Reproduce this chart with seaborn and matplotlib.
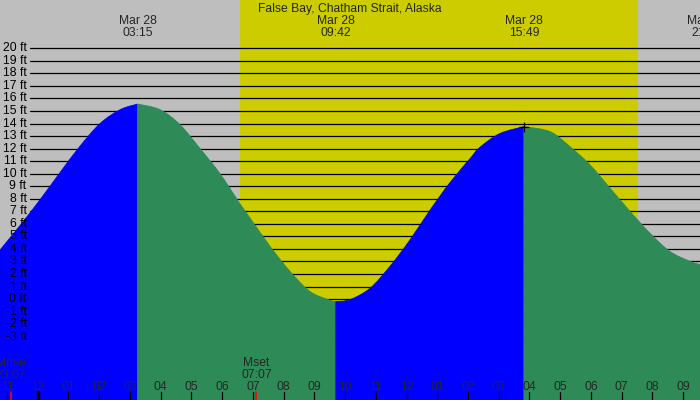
import matplotlib
matplotlib.use("Agg")
import matplotlib.pyplot as plt
import matplotlib.transforms as mtrans
from matplotlib.path import Path
from matplotlib.patches import PathPatch
import seaborn as sns
import pandas as pd

# ---- data (hours relative to Mar 28 00:00, heights in ft) ----
title = "False Bay, Chatham Strait, Alaska"
tide_hours = [-1.23, -0.58, 0.07, 0.73, 1.38, 2.03, 2.68, 3.25,
              3.98, 4.63, 5.28, 5.93, 6.58, 6.91, 7.56, 8.21, 8.86, 9.51, 9.70,
              10.16, 10.81, 11.46, 12.11, 12.77, 13.42, 14.07, 14.39, 15.04, 15.82,
              16.67, 17.32, 17.97, 18.62, 19.27, 19.92, 20.57, 21.23, 21.55]
tide_ft = [3.9, 5.85, 7.9, 10.1, 12.2, 14.0, 15.1, 15.55,
           15.1, 13.9, 12.0, 10.0, 7.6, 6.45, 4.2, 2.2, 0.6, -0.1, -0.2,
           -0.05, 0.85, 2.6, 4.7, 7.1, 9.3, 11.2, 12.1, 13.2, 13.75,
           13.35, 12.15, 10.7, 8.85, 7.0, 5.25, 3.8, 3.0, 2.75]
extreme_hours = [3.25, 9.70, 15.82, 21.75]
extreme_labels = ["Mar 28\n03:15", "Mar 28\n09:42", "Mar 28\n15:49", "Mar 28\n21:45"]
peak_mark = (15.82, 13.75)
sunrise_h, sunset_h = 6.58, 19.52
moon_hours = [-0.883, 7.117]
moon_labels = ["Mrise\n23:07", "Mset\n07:07"]
hour_ticks = list(range(-1, 22))
ft_levels = list(range(-3, 21))

df = pd.DataFrame({"hour": tide_hours, "ft": tide_ft})

# ---- figure ----
sns.set_style("white")
plt.rcParams['font.family'] = ['Liberation Sans', 'DejaVu Sans']
fig = plt.figure(figsize=(7, 4), dpi=100)
ax = fig.add_axes([0, 0, 1, 1])
x0, x1 = -1.228, 21.55
y0, y1 = -8.05, 23.85
ax.set_xlim(x0, x1)
ax.set_ylim(y0, y1)
ax.set_facecolor("#BEBEBE")
ax.axvspan(sunrise_h, sunset_h, color="#CCCC00", zorder=0, lw=0)

FS = 8.7
blend = mtrans.blended_transform_factory(ax.transData, ax.transAxes)
blend_y = mtrans.blended_transform_factory(ax.transAxes, ax.transData)

# horizontal ft lines and labels
for f in ft_levels:
    ax.axhline(f, xmin=29.5 / 700, xmax=1, color="black", lw=0.9, zorder=1)
    ax.text(26.5 / 700, f, f"{f} ft", transform=blend_y, ha="right", va="center",
            fontsize=FS, color="black", zorder=5)


def smooth_path(xs, ys, base):
    """Catmull-Rom curve drawn through the data points, closed down to base."""
    verts = [(xs[0], base), (xs[0], ys[0])]
    codes = [Path.MOVETO, Path.LINETO]
    n = len(xs)
    for i in range(n - 1):
        p0 = (xs[i - 1], ys[i - 1]) if i > 0 else (xs[i], ys[i])
        p1 = (xs[i], ys[i])
        p2 = (xs[i + 1], ys[i + 1])
        p3 = (xs[i + 2], ys[i + 2]) if i + 2 < n else p2
        c1 = (p1[0] + (p2[0] - p0[0]) / 6, p1[1] + (p2[1] - p0[1]) / 6)
        c2 = (p2[0] - (p3[0] - p1[0]) / 6, p2[1] - (p3[1] - p1[1]) / 6)
        verts += [c1, c2, p2]
        codes += [Path.CURVE4] * 3
    verts += [(xs[-1], base), (xs[0], base)]
    codes += [Path.LINETO, Path.CLOSEPOLY]
    return Path(verts, codes)


# tide fills: rising blue, falling green
bounds = [df["hour"].min()] + [h for h in extreme_hours if h <= df["hour"].max()] + [df["hour"].max()]
for i in range(len(bounds) - 1):
    a, b = bounds[i], bounds[i + 1]
    seg = df[(df["hour"] >= a - 1e-9) & (df["hour"] <= b + 1e-9)]
    rising = seg["ft"].iloc[-1] > seg["ft"].iloc[0]
    col = "#0000FF" if rising else "#2E8B57"
    xs = seg["hour"].tolist()
    ys = seg["ft"].tolist()
    patch = PathPatch(smooth_path(xs, ys, y0), facecolor=col, edgecolor=col,
                      lw=0.6, zorder=2)
    ax.add_patch(patch)
    sns.lineplot(data=seg, x="hour", y="ft", ax=ax, color=col, lw=0,
                 zorder=1, sort=False)

ax.plot([peak_mark[0]], [peak_mark[1]], marker="+", color="black",
        markersize=7, mew=0.9, zorder=4)

# title and extreme labels
ax.text(0.5, 1 - 9 / 400, title, transform=ax.transAxes, ha="center",
        va="center", fontsize=FS, zorder=5)
for h, lab in zip(extreme_hours, extreme_labels):
    ax.text(h, 1 - 27.5 / 400, lab, transform=blend, ha="center", va="center",
            fontsize=FS, linespacing=1.0, zorder=5)

# moon labels and ticks
for h, lab in zip(moon_hours, moon_labels):
    ax.text(h, 1 - 369.5 / 400, lab, transform=blend, ha="center", va="center",
            fontsize=FS, linespacing=1.0, zorder=5)
    ax.plot([h, h], [0, 8 / 400], transform=blend, color="red", lw=1.2, zorder=5)

# hour ticks
for h in hour_ticks:
    lab = f"{(h % 12) or 12:02d}"
    ax.text(h, 1 - 387 / 400, lab, transform=blend, ha="center", va="center",
            fontsize=FS, zorder=5)
    ax.plot([h, h], [0, 8 / 400], transform=blend, color="black",
            lw=2.5 if h % 24 == 0 else 0.9, zorder=5)

ax.set_xlabel("")
ax.set_ylabel("")
ax.set_xticks([])
ax.set_yticks([])
for s in ax.spines.values():
    s.set_visible(False)
if ax.get_legend():
    ax.get_legend().remove()

fig.savefig("out.png", dpi=100)
